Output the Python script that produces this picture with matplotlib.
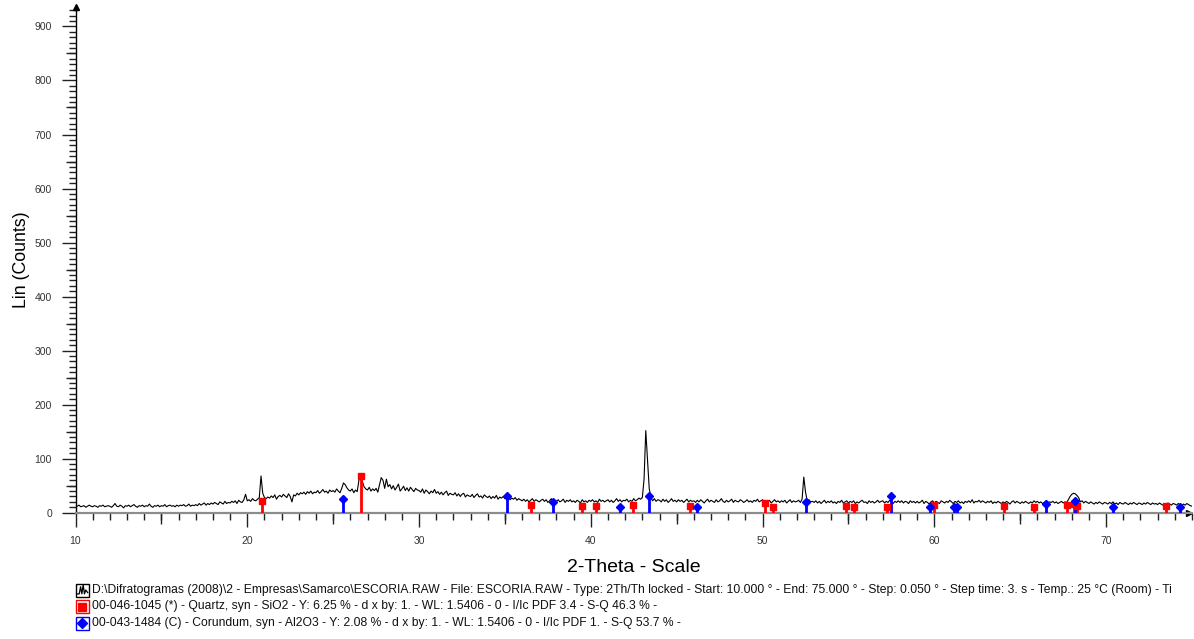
import numpy as np
import matplotlib
matplotlib.use('agg')
import matplotlib.pyplot as plt
from matplotlib.patches import Rectangle
from matplotlib.lines import Line2D
from matplotlib.ticker import MultipleLocator

plt.rcParams['font.family'] = ['Liberation Sans', 'DejaVu Sans']

# scan ESCORIA.RAW, values read at 0.1 deg steps (10.0 .. 75.0)
theta_start = 10.0
theta_step = 0.1
counts = [
    13, 12, 14, 11, 12, 13, 10, 12, 14, 12,
    11, 13, 12, 10, 13, 12, 14, 11, 12, 13,
    12, 10, 13, 17, 12, 11, 14, 12, 9, 13,
    12, 14, 11, 13, 15, 12, 10, 13, 12, 14,
    11, 13, 12, 16, 12, 10, 13, 12, 14, 11,
    13, 12, 15, 11, 13, 14, 12, 13, 11, 14,
    12, 14, 13, 15, 12, 13, 16, 12, 14, 13,
    15, 13, 17, 14, 16, 18, 14, 17, 15, 18,
    16, 19, 17, 15, 20, 18, 16, 21, 17, 19,
    18, 21, 19, 22, 17, 23, 20, 19, 24, 34,
    22, 24, 21, 26, 23, 22, 25, 28, 68, 36,
    28, 26, 29, 27, 31, 28, 33, 25, 30, 32,
    29, 34, 31, 28, 35, 30, 20, 33, 31, 36,
    33, 37, 35, 38, 34, 39, 36, 40, 35, 38,
    37, 41, 36, 39, 43, 38, 40, 36, 42, 39,
    41, 38, 44, 40, 37, 45, 55, 52, 46, 42,
    40, 44, 37, 42, 39, 60, 66, 58, 48, 44,
    42, 47, 40, 44, 41, 45, 38, 52, 65, 60,
    45, 62, 48, 52, 44, 50, 42, 47, 53, 40,
    44, 49, 41, 46, 40, 47, 43, 39, 45, 42,
    41, 38, 44, 36, 42, 39, 35, 40, 37, 43,
    36, 39, 34, 38, 33, 37, 40, 32, 36, 34,
    33, 37, 31, 35, 30, 34, 36, 29, 33, 31,
    30, 34, 28, 32, 35, 29, 31, 27, 33, 30,
    28, 31, 26, 30, 27, 32, 25, 29, 27, 30,
    26, 28, 31, 24, 27, 25, 28, 23, 26, 24,
    22, 25, 21, 24, 20, 23, 26, 21, 24, 22,
    20, 23, 25, 21, 24, 19, 22, 26, 20, 23,
    21, 24, 20, 22, 25, 19, 23, 21, 24, 20,
    22, 19, 23, 21, 18, 24, 20, 22, 19, 23,
    21, 24, 20, 22, 19, 25, 21, 23, 20, 22,
    24, 20, 23, 19, 22, 26, 21, 24, 20, 23,
    22, 25, 20, 23, 21, 26, 22, 24, 27, 25,
    28, 62, 152, 100, 45, 28, 22, 26, 21, 24,
    23, 20, 25, 21, 24, 19, 22, 26, 21, 23,
    20, 24, 21, 23, 19, 22, 25, 20, 23, 21,
    22, 19, 23, 20, 24, 21, 18, 22, 25, 20,
    23, 21, 19, 24, 20, 22, 26, 21, 19, 23,
    20, 22, 25, 19, 23, 21, 20, 24, 22, 19,
    21, 24, 20, 22, 19, 23, 21, 25, 20, 22,
    24, 19, 22, 20, 23, 18, 21, 24, 20, 22,
    19, 22, 20, 23, 18, 21, 24, 19, 22, 20,
    21, 23, 19, 25, 66, 38, 22, 24, 20, 21,
    19, 22, 18, 21, 17, 20, 23, 18, 21, 19,
    22, 18, 20, 17, 21, 19, 23, 18, 20, 22,
    18, 21, 19, 22, 17, 20, 18, 21, 23, 19,
    20, 17, 22, 19, 21, 18, 20, 23, 19, 21,
    22, 18, 21, 19, 23, 20, 17, 21, 19, 22,
    19, 22, 18, 21, 20, 17, 22, 19, 21, 18,
    21, 18, 20, 23, 17, 21, 19, 16, 20, 22,
    18, 21, 19, 17, 22, 20, 18, 21, 19, 23,
    20, 17, 21, 19, 22, 18, 20, 17, 21, 19,
    22, 19, 24, 18, 21, 20, 23, 19, 22, 20,
    18, 21, 19, 22, 17, 20, 18, 21, 19, 17,
    20, 18, 21, 19, 16, 20, 22, 18, 21, 19,
    17, 20, 18, 21, 19, 17, 20, 18, 22, 19,
    21, 18, 20, 17, 19, 22, 18, 20, 19, 21,
    18, 20, 17, 19, 21, 18, 20, 19, 24, 30,
    34, 36, 35, 32, 28, 20, 22, 18, 21, 19,
    17, 20, 18, 16, 19, 17, 20, 18, 16, 19,
    18, 16, 19, 17, 20, 16, 18, 15, 19, 17,
    16, 19, 17, 15, 18, 16, 19, 17, 15, 18,
    17, 15, 18, 16, 19, 17, 15, 18, 16, 17,
    15, 18, 16, 14, 17, 15, 18, 16, 14, 17,
    16, 14, 17, 15, 13, 16, 14, 17, 15, 13,
    12,
]
two_theta = theta_start + theta_step * np.arange(len(counts))

# reference patterns (stick positions / scaled heights)
quartz_pos = [20.86, 26.64, 36.54, 39.47, 40.30, 42.45, 45.80, 50.14, 50.62,
              54.87, 55.33, 57.24, 59.96, 64.03, 65.79, 67.74, 68.14, 68.32, 73.47]
quartz_int = [22, 68, 15, 13, 12, 14, 12, 18, 11,
              12, 11, 11, 15, 12, 11, 14, 16, 13, 12]
corundum_pos = [25.58, 35.15, 37.78, 41.68, 43.36, 46.18, 52.55, 57.50, 59.74,
                61.12, 61.30, 66.52, 68.21, 70.42, 74.30]
corundum_int = [25, 30, 19, 10, 30, 11, 19, 30, 11,
                11, 11, 17, 22, 10, 10]

legend_texts = [
    "D:\\Difratogramas (2008)\\2 - Empresas\\Samarco\\ESCORIA.RAW - File: ESCORIA.RAW - Type: 2Th/Th locked - "
    "Start: 10.000 \u00b0 - End: 75.000 \u00b0 - Step: 0.050 \u00b0 - Step time: 3. s - Temp.: 25 \u00b0C (Room) - Ti",
    "00-046-1045 (*) - Quartz, syn - SiO2 - Y: 6.25 % - d x by: 1. - WL: 1.5406 - 0 - I/Ic PDF 3.4 - S-Q 46.3 % -",
    "00-043-1484 (C) - Corundum, syn - Al2O3 - Y: 2.08 % - d x by: 1. - WL: 1.5406 - 0 - I/Ic PDF 1. - S-Q 53.7 % -",
]

W, H = 1194, 639
fig = plt.figure(figsize=(W / 100, H / 100), dpi=100)
ax = fig.add_axes([75.5 / W, 1 - 512.7 / H, (1192 - 75.5) / W, (512.7 - 7) / H])

ax.plot(two_theta, counts, color='black', lw=0.8, zorder=2)
ax.vlines(quartz_pos, 0, quartz_int, colors='#ff0000', lw=2.0, zorder=3)
ax.plot(quartz_pos, quartz_int, 's', color='#ff0000', ms=4.5, zorder=4)
ax.vlines(corundum_pos, 0, corundum_int, colors='#0000ff', lw=2.0, zorder=3)
ax.plot(corundum_pos, corundum_int, 'D', color='#0000ff', ms=4, zorder=4)

ax.set_xlim(10, 75)
ax.set_ylim(0, 936)

for s in ['top', 'right']:
    ax.spines[s].set_visible(False)
ax.spines['left'].set_color('black')
ax.spines['left'].set_linewidth(1.0)
ax.spines['bottom'].set_color('#8c8c8c')
ax.spines['bottom'].set_linewidth(1.6)

ax.xaxis.set_major_locator(MultipleLocator(10))
ax.xaxis.set_minor_locator(MultipleLocator(1))
ax.yaxis.set_major_locator(MultipleLocator(100))
ax.yaxis.set_minor_locator(MultipleLocator(10))
ax.tick_params(which='major', length=10, width=1, color='#222222',
               labelsize=7.5, labelcolor='#333333', pad=7)
ax.tick_params(which='minor', length=5, width=1, color='#222222')

# medium ticks at the 5 / 50 marks
secx = ax.secondary_xaxis('bottom')
secx.set_xticks(np.arange(15, 75, 10))
secx.tick_params(length=8, width=1, color='#222222', labelbottom=False)
secx.spines['bottom'].set_visible(False)
secy = ax.secondary_yaxis('left')
secy.set_yticks(np.arange(50, 936, 100))
secy.tick_params(length=7, width=1, color='#222222', labelleft=False)
secy.spines['left'].set_visible(False)

# axis arrow heads
ax.plot([0], [1], marker='^', color='black', ms=5, transform=ax.transAxes, clip_on=False)
ax.plot([0.997], [0], marker='>', color='black', ms=5, transform=ax.transAxes, clip_on=False)

ax.set_xlabel('2-Theta - Scale', fontsize=14, labelpad=9)
ax.set_ylabel('Lin (Counts)', fontsize=12.8, labelpad=3)


def fpt(px, py):
    return px / W, 1 - py / H


row_y = [590, 606.5, 623]
box = 13
for i, txt in enumerate(legend_texts):
    cy = row_y[i]
    x0, y0 = fpt(76, cy + box / 2)
    ec = ['black', '#ff0000', '#0000ff'][i]
    fig.add_artist(Rectangle((x0, y0), box / W, box / H, transform=fig.transFigure,
                             fill=False, edgecolor=ec, lw=1))
    cx = 76 + box / 2
    if i == 0:
        zx = [0.1, 0.25, 0.35, 0.45, 0.55, 0.65, 0.75, 0.9]
        zy = [0.2, 0.2, 0.75, 0.2, 0.9, 0.2, 0.5, 0.3]
        pts = [fpt(76 + a * box, cy + box / 2 - b * box) for a, b in zip(zx, zy)]
        fig.add_artist(Line2D([p[0] for p in pts], [p[1] for p in pts],
                              transform=fig.transFigure, color='black', lw=0.9))
    else:
        mk = 's' if i == 1 else 'D'
        px, py = fpt(cx, cy)
        fig.add_artist(Line2D([px], [py], marker=mk, ms=6 if i == 1 else 5, color=ec,
                              transform=fig.transFigure))
    tx, ty = fpt(92, cy)
    fig.text(tx, ty, txt, fontsize=8.7, va='center', ha='left', color='#111111')

fig.savefig('out.png', dpi=100)
